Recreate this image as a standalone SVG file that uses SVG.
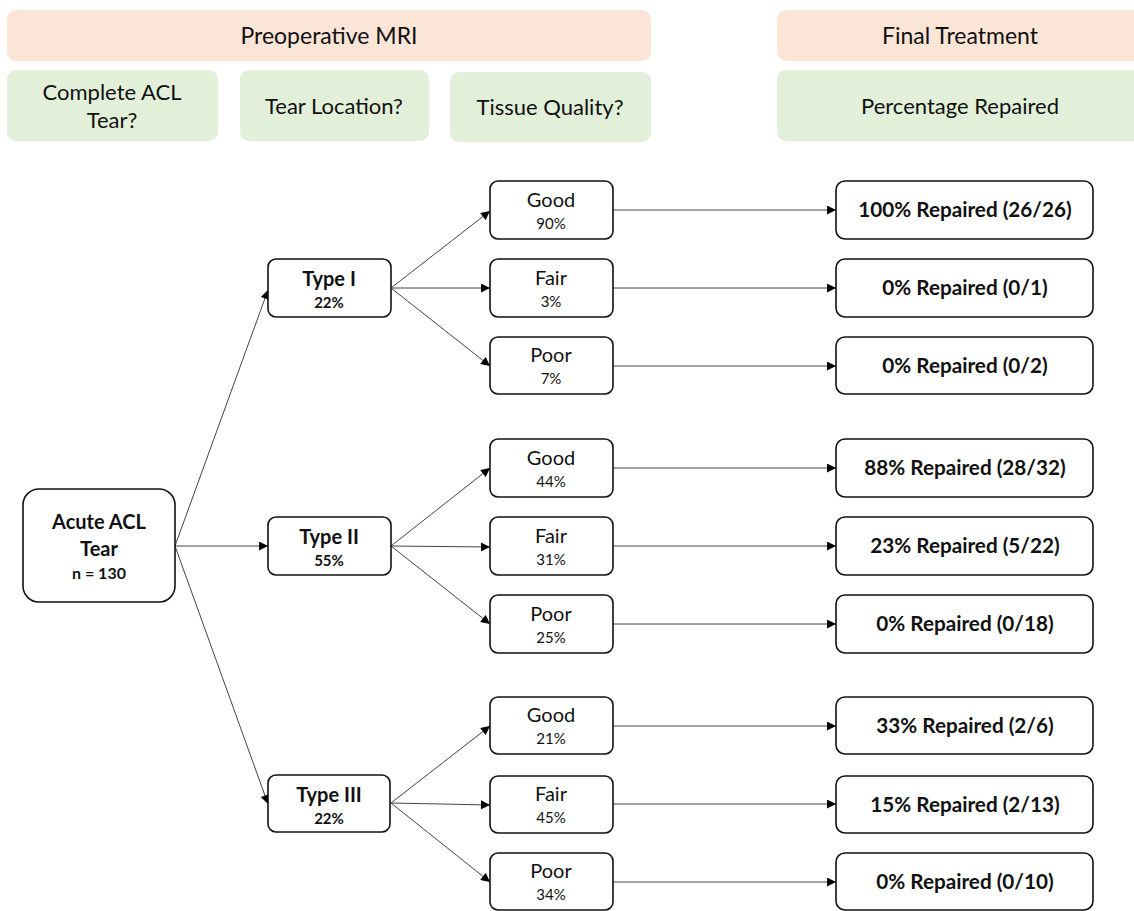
<svg xmlns="http://www.w3.org/2000/svg" width="1134" height="911" viewBox="0 0 1134 911">
<defs>
<marker id="ah" viewBox="0 0 10 10" refX="10" refY="5" markerWidth="10" markerHeight="9" markerUnits="userSpaceOnUse" orient="auto">
<path d="M0,0 L10,5 L0,10 z" fill="#000"/>
</marker>
<style>
text{font-family:Lato,"Liberation Sans",sans-serif;fill:#111;text-anchor:middle}
.hdr{fill:#FBE5D6}
.grn{fill:#E2F0D9}
.h{font-size:23px}
.g{font-size:22px}
.box{fill:#fff;stroke:#111;stroke-width:1.6}
.t1{font-size:20px}
.p{font-size:15px}
.b{font-weight:bold}
.r{font-size:20.7px;font-weight:bold}
.c{stroke:#444;stroke-width:1;fill:none;marker-end:url(#ah)}
</style>
</defs>
<rect width="1134" height="911" fill="#fff"/>
<g id="hdr-preop"><rect class="hdr" x="7" y="10" width="644" height="51" rx="9"/><text class="h" x="329" y="44">Preoperative MRI</text></g>
<g id="hdr-final"><rect class="hdr" x="777" y="10" width="370" height="51" rx="9"/><text class="h" x="960" y="44">Final Treatment</text></g>
<g id="q-complete"><rect class="grn" x="7" y="70" width="211" height="71" rx="9"/><text class="g" x="112" y="100">Complete ACL</text><text class="g" x="112" y="128">Tear?</text></g>
<g id="q-location"><rect class="grn" x="240" y="70" width="189" height="71" rx="9"/><text class="g" x="334" y="114">Tear Location?</text></g>
<g id="q-quality"><rect class="grn" x="450" y="72" width="201" height="70" rx="9"/><text class="g" x="550" y="115">Tissue Quality?</text></g>
<g id="q-repaired"><rect class="grn" x="777" y="70" width="370" height="71" rx="9"/><text class="g" x="960" y="114">Percentage Repaired</text></g>

<g id="connectors">
<line class="c" x1="175" y1="546" x2="268" y2="290"/>
<line class="c" x1="175" y1="546" x2="268" y2="546"/>
<line class="c" x1="175" y1="546" x2="268" y2="804"/>
<line class="c" x1="391" y1="288" x2="490" y2="211"/>
<line class="c" x1="391" y1="288" x2="490" y2="288"/>
<line class="c" x1="391" y1="288" x2="490" y2="366"/>
<line class="c" x1="391" y1="546" x2="490" y2="468"/>
<line class="c" x1="391" y1="546" x2="490" y2="547"/>
<line class="c" x1="391" y1="546" x2="490" y2="624"/>
<line class="c" x1="391" y1="803" x2="490" y2="726"/>
<line class="c" x1="391" y1="803" x2="490" y2="805"/>
<line class="c" x1="391" y1="803" x2="490" y2="882"/>
<line class="c" x1="613" y1="210" x2="836" y2="210"/>
<line class="c" x1="613" y1="288" x2="836" y2="288"/>
<line class="c" x1="613" y1="366" x2="836" y2="366"/>
<line class="c" x1="613" y1="468" x2="836" y2="468"/>
<line class="c" x1="613" y1="546" x2="836" y2="546"/>
<line class="c" x1="613" y1="624" x2="836" y2="624"/>
<line class="c" x1="613" y1="726" x2="836" y2="726"/>
<line class="c" x1="613" y1="804" x2="836" y2="804"/>
<line class="c" x1="613" y1="882" x2="836" y2="882"/>
</g>

<g id="acute"><rect class="box" x="23" y="489" width="152" height="113" rx="16"/><text class="b" x="99" y="529" font-size="20">Acute ACL</text><text class="b" x="99" y="556" font-size="20">Tear</text><text class="b" x="99" y="579" font-size="16">n = 130</text></g>

<g id="type1"><rect class="box" x="268" y="259" width="123" height="58" rx="8"/><text class="t1 b" x="329" y="286">Type I</text><text class="p b" x="329" y="308">22%</text></g>
<g id="type2"><rect class="box" x="268" y="517" width="123" height="58" rx="8"/><text class="t1 b" x="329" y="544">Type II</text><text class="p b" x="329" y="566">55%</text></g>
<g id="type3"><rect class="box" x="268" y="775" width="122" height="57" rx="8"/><text class="t1 b" x="329" y="802">Type III</text><text class="p b" x="329" y="824">22%</text></g>

<g id="t1-good"><rect class="box" x="490" y="181" width="123" height="58" rx="8"/><text class="t1" x="551" y="207">Good</text><text class="p" x="551" y="229">90%</text></g>
<g id="t1-fair"><rect class="box" x="490" y="259" width="123" height="58" rx="8"/><text class="t1" x="551" y="285">Fair</text><text class="p" x="551" y="307">3%</text></g>
<g id="t1-poor"><rect class="box" x="490" y="337" width="123" height="57" rx="8"/><text class="t1" x="551" y="362">Poor</text><text class="p" x="551" y="384">7%</text></g>
<g id="t2-good"><rect class="box" x="490" y="439" width="123" height="58" rx="8"/><text class="t1" x="551" y="465">Good</text><text class="p" x="551" y="487">44%</text></g>
<g id="t2-fair"><rect class="box" x="490" y="517" width="123" height="58" rx="8"/><text class="t1" x="551" y="543">Fair</text><text class="p" x="551" y="565">31%</text></g>
<g id="t2-poor"><rect class="box" x="490" y="595" width="123" height="58" rx="8"/><text class="t1" x="551" y="621">Poor</text><text class="p" x="551" y="643">25%</text></g>
<g id="t3-good"><rect class="box" x="490" y="697" width="123" height="57" rx="8"/><text class="t1" x="551" y="722">Good</text><text class="p" x="551" y="744">21%</text></g>
<g id="t3-fair"><rect class="box" x="490" y="776" width="123" height="57" rx="8"/><text class="t1" x="551" y="801">Fair</text><text class="p" x="551" y="823">45%</text></g>
<g id="t3-poor"><rect class="box" x="490" y="853" width="123" height="57" rx="8"/><text class="t1" x="551" y="878">Poor</text><text class="p" x="551" y="900">34%</text></g>

<g id="r1"><rect class="box" x="836" y="181" width="257" height="58" rx="9"/><text class="r" x="965" y="217">100% Repaired (26/26)</text></g>
<g id="r2"><rect class="box" x="836" y="259" width="257" height="58" rx="9"/><text class="r" x="965" y="295">0% Repaired (0/1)</text></g>
<g id="r3"><rect class="box" x="836" y="337" width="257" height="57" rx="9"/><text class="r" x="965" y="373">0% Repaired (0/2)</text></g>
<g id="r4"><rect class="box" x="836" y="439" width="257" height="58" rx="9"/><text class="r" x="965" y="475">88% Repaired (28/32)</text></g>
<g id="r5"><rect class="box" x="836" y="517" width="257" height="58" rx="9"/><text class="r" x="965" y="553">23% Repaired (5/22)</text></g>
<g id="r6"><rect class="box" x="836" y="595" width="257" height="58" rx="9"/><text class="r" x="965" y="631">0% Repaired (0/18)</text></g>
<g id="r7"><rect class="box" x="836" y="697" width="257" height="57" rx="9"/><text class="r" x="965" y="733">33% Repaired (2/6)</text></g>
<g id="r8"><rect class="box" x="836" y="776" width="257" height="57" rx="9"/><text class="r" x="965" y="812">15% Repaired (2/13)</text></g>
<g id="r9"><rect class="box" x="836" y="853" width="257" height="57" rx="9"/><text class="r" x="965" y="889">0% Repaired (0/10)</text></g>
</svg>
